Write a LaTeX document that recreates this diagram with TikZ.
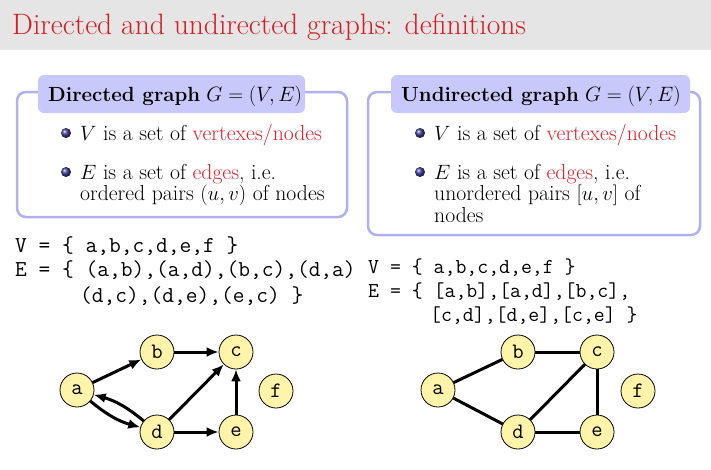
\documentclass[tikz,border=0pt]{standalone}
\usepackage{amsmath}
\usetikzlibrary{arrows.meta}
\begin{document}
\begin{tikzpicture}[x=1pt,y=-1pt,
 box/.style={draw=boxc,line width=2.5pt,rounded corners=9pt},
 tab/.style={fill=tabc,rounded corners=6pt,inner sep=0pt},
 vx/.style={circle,draw=black,line width=0.8pt,fill=nodec,minimum size=34pt,inner sep=0pt,font=\fontsize{22}{24}\selectfont\ttfamily},
 arr/.style={-{Latex[length=12pt,width=10pt]},line width=3pt},
 ed/.style={line width=3pt},
 txt/.style={anchor=base west,inner sep=0pt,font=\fontsize{21.7}{24}\selectfont},
 hdr/.style={anchor=base west,inner sep=0pt,font=\fontsize{20.5}{24}\selectfont},
 code/.style={anchor=base west,inner sep=0pt,font=\fontsize{22.8}{24}\selectfont\ttfamily},
 rcode/.style={anchor=base west,inner sep=0pt,font=\fontsize{21.2}{24}\selectfont\ttfamily},
 ball/.style={circle,ball color=ballc,inner sep=0pt,minimum size=10pt}]
\definecolor{boxc}{RGB}{176,176,240}
\definecolor{tabc}{RGB}{200,200,250}
\definecolor{nodec}{RGB}{255,244,170}
\definecolor{ballc}{RGB}{60,60,150}
\definecolor{titc}{RGB}{210,30,40}
\definecolor{redc}{RGB}{230,30,40}
\useasboundingbox (0,0) rectangle (711,469);
\fill[black!10] (0,0) rectangle (711,50);
\node[anchor=base west,inner sep=0pt,text=titc,font=\fontsize{29.5}{32}\selectfont] (title) at (12,34) {Directed and undirected graphs: definitions};
% left box
\draw[box] (17,92) rectangle (347,217);
\fill[tab] (38,75) rectangle (305,113);
\node[hdr] (lt) at (48,101) {\textbf{Directed graph} $G=(V,E)$};
\node[ball] (lb1) at (66,133) {};
\node[txt] (l1) at (80,140) {$V$ is a set of \textcolor{redc}{vertexes/nodes}};
\node[ball] (lb2) at (66,172) {};
\node[txt] (l2) at (80,179) {$E$ is a set of \textcolor{redc}{edges}, i.e.};
\node[txt] (l3) at (80,200) {ordered pairs $(u,v)$ of nodes};
% right box
\draw[box] (368,92) rectangle (700,235);
\fill[tab] (391,75) rectangle (690,113);
\node[hdr] (rt) at (401,101) {\textbf{Undirected graph} $G=(V,E)$};
\node[ball] (rb1) at (420,133) {};
\node[txt] (r1) at (434,140) {$V$ is a set of \textcolor{redc}{vertexes/nodes}};
\node[ball] (rb2) at (420,172) {};
\node[txt] (r2) at (434,179) {$E$ is a set of \textcolor{redc}{edges}, i.e.};
\node[txt] (r3) at (434,200) {unordered pairs $[u,v]$ of};
\node[txt] (r4) at (434,222) {nodes};
% code
\node[code] (lc1) at (15,252) {V = \{ a,b,c,d,e,f \}};
\node[code] (lc2) at (15,276) {E = \{ (a,b),(a,d),(b,c),(d,a)};
\node[code] (lc3) at (80,302) {(d,c),(d,e),(e,c) \}};
\node[rcode] (rc1) at (368,273) {V = \{ a,b,c,d,e,f \}};
\node[rcode] (rc2) at (368,297) {E = \{ [a,b],[a,d],[b,c],};
\node[rcode] (rc3) at (430,321) {[c,d],[d,e],[c,e] \}};
% left graph
\node[vx] (a) at (77,390) {a};
\node[vx] (b) at (157,352) {b};
\node[vx] (c) at (236,352) {c};
\node[vx] (d) at (157,432) {d};
\node[vx] (e) at (236,432) {e};
\node[vx] (f) at (276,391) {f};
\draw[arr] (a) -- (b);
\draw[arr] (b) -- (c);
\draw[arr] (a) to[bend right=12] (d);
\draw[arr] (d) to[bend right=12] (a);
\draw[arr] (d) -- (c);
\draw[arr] (d) -- (e);
\draw[arr] (e) -- (c);
% right graph
\node[vx] (ra) at (438,390) {a};
\node[vx] (rb) at (518,352) {b};
\node[vx] (rc) at (597,352) {c};
\node[vx] (rd) at (518,432) {d};
\node[vx] (re) at (597,432) {e};
\node[vx] (rf) at (638,391) {f};
\draw[ed] (ra) -- (rb);
\draw[ed] (rb) -- (rc);
\draw[ed] (ra) -- (rd);
\draw[ed] (rd) -- (rc);
\draw[ed] (rd) -- (re);
\draw[ed] (rc) -- (re);
\end{tikzpicture}
\end{document}
